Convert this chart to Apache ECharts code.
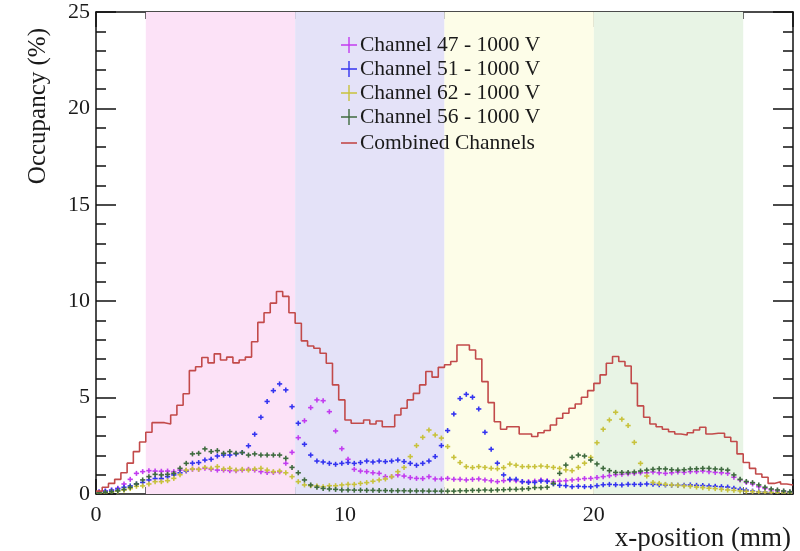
<!DOCTYPE html>
<html>
<head>
<meta charset="utf-8">
<script src="https://cdn.jsdelivr.net/npm/echarts@6/dist/echarts.min.js"></script>
<style>html,body{margin:0;padding:0;background:#fff}#c{width:800px;height:551px}</style>
</head>
<body>
<div id="c"></div>
<script>
// Histogram binning: 112 bins of 0.25 mm from 0 to 28 mm
const binStart = 0;
const binWidth = 0.25;
const xTicks = [0, 10, 20];
const yTicks = [0, 5, 10, 15, 20, 25];

const seriesNames = ['Channel 47 - 1000 V', 'Channel 51 - 1000 V', 'Channel 62 - 1000 V', 'Channel 56 - 1000 V', 'Combined Channels'];

const ch47 = [
0.10,0.15,0.20,0.30,0.52,0.76,1.07,1.16,1.21,1.19,
1.18,1.19,1.16,1.24,1.21,1.28,1.28,1.33,1.28,1.24,
1.24,1.21,1.21,1.24,1.28,1.24,1.16,1.12,1.12,1.15,
1.59,2.16,2.92,3.80,4.48,4.88,4.84,4.27,3.27,2.35,
1.80,1.28,1.19,1.16,1.10,1.07,0.90,0.90,0.99,0.93,
0.85,0.81,0.80,0.90,0.78,0.78,0.81,0.76,0.76,0.73,
0.76,0.78,0.73,0.69,0.64,0.69,0.73,0.69,0.64,0.64,
0.67,0.73,0.69,0.64,0.67,0.69,0.73,0.76,0.80,0.81,
0.85,0.90,0.95,1.00,1.02,1.05,1.07,1.10,1.10,1.14,
1.10,1.07,1.10,1.14,1.12,1.16,1.16,1.19,1.16,1.12,
1.10,1.07,0.87,0.73,0.60,0.52,0.38,0.29,0.21,0.16,
0.12,0.09];

const ch51 = [
0.10,0.15,0.20,0.26,0.35,0.42,0.52,0.60,0.73,0.80,
0.80,0.90,0.99,1.10,1.20,1.60,1.63,1.76,1.80,1.97,
2.02,2.02,2.08,2.15,2.50,3.10,3.98,4.80,5.36,5.71,
5.40,4.53,3.67,2.58,2.02,1.71,1.66,1.59,1.54,1.59,
1.63,1.59,1.63,1.71,1.66,1.71,1.68,1.71,1.76,1.68,
1.59,1.49,1.59,1.71,1.94,2.51,3.29,4.15,4.95,5.17,
5.02,4.41,3.20,2.32,1.60,0.99,0.76,0.76,0.64,0.60,
0.60,0.67,0.65,0.52,0.45,0.43,0.38,0.40,0.38,0.38,
0.43,0.48,0.50,0.48,0.47,0.50,0.50,0.50,0.52,0.50,
0.48,0.47,0.46,0.45,0.46,0.47,0.45,0.44,0.42,0.40,
0.38,0.36,0.30,0.25,0.20,0.15,0.12,0.10,0.08,0.07,
0.07,0.06];

const ch62 = [
0.05,0.07,0.10,0.15,0.20,0.28,0.40,0.42,0.52,0.64,
0.64,0.69,0.81,1.00,1.24,1.30,1.28,1.38,1.33,1.42,
1.30,1.33,1.24,1.28,1.24,1.30,1.33,1.24,1.16,1.19,
1.10,0.90,0.64,0.47,0.43,0.42,0.38,0.43,0.43,0.47,
0.50,0.50,0.55,0.59,0.66,0.73,0.78,0.90,1.16,1.38,
1.94,2.51,2.94,3.32,3.06,2.90,2.46,1.90,1.63,1.42,
1.37,1.42,1.38,1.33,1.31,1.37,1.55,1.49,1.42,1.42,
1.42,1.45,1.42,1.38,1.33,1.25,1.21,1.38,1.60,1.90,
2.66,3.36,3.84,4.24,3.88,3.55,2.68,1.59,0.93,0.60,
0.55,0.50,0.47,0.45,0.42,0.40,0.36,0.33,0.30,0.28,
0.24,0.21,0.19,0.16,0.14,0.12,0.10,0.09,0.08,0.07,
0.06,0.05];

const ch56 = [
0.06,0.09,0.12,0.17,0.24,0.35,0.52,0.73,0.90,1.02,
0.99,1.02,1.07,1.33,1.59,2.08,2.11,2.34,2.20,2.25,
2.11,2.20,2.11,2.15,2.02,2.08,2.02,2.02,2.02,2.02,
1.85,1.38,1.10,0.73,0.47,0.35,0.29,0.26,0.24,0.21,
0.21,0.20,0.20,0.19,0.19,0.18,0.18,0.17,0.17,0.17,
0.16,0.16,0.16,0.15,0.15,0.15,0.15,0.15,0.17,0.17,
0.19,0.19,0.21,0.19,0.21,0.22,0.24,0.24,0.26,0.28,
0.33,0.33,0.35,0.55,1.07,1.50,1.90,2.02,1.97,1.76,
1.56,1.33,1.21,1.12,1.12,1.12,1.14,1.19,1.24,1.28,
1.31,1.30,1.26,1.24,1.26,1.30,1.31,1.33,1.33,1.30,
1.28,1.24,0.99,0.76,0.65,0.59,0.47,0.35,0.26,0.21,
0.16,0.12];

const combined = [
0.15,0.35,0.55,0.76,1.10,1.60,2.20,2.70,3.20,3.70,
3.70,3.63,4.10,4.60,5.20,6.40,6.60,7.08,6.80,7.27,
6.95,7.10,6.80,6.95,7.10,7.90,8.90,9.40,9.90,10.50,
10.25,9.40,8.86,7.94,7.68,7.56,7.30,6.78,5.66,4.88,
3.84,3.67,3.67,3.84,3.63,3.79,3.49,3.49,4.10,4.45,
4.88,5.22,5.66,6.35,6.06,6.57,6.70,6.87,7.73,7.73,
7.47,7.00,5.83,4.74,3.75,3.36,3.49,3.49,3.11,3.11,
2.98,3.18,3.29,3.58,3.93,4.19,4.45,4.67,5.02,5.36,
5.74,6.18,6.78,7.13,6.87,6.64,5.74,4.57,3.98,3.63,
3.49,3.36,3.23,3.11,3.06,3.18,3.32,3.46,3.11,3.15,
3.15,2.94,2.72,2.08,1.63,1.33,1.04,0.87,0.55,0.64,
0.52,0.47];

// Shaded channel regions (mm)
const bandRanges = [[2, 8], [8, 14], [14, 20], [20, 26]];
const bandColors = ['#fce2f7', '#e4e2f8', '#fdfde8', '#e8f4e5'];
const colors = ['#c23cf0', '#3434f0', '#c8c23c', '#3f6b3f', '#c24a4a'];

const binCenters = ch47.map((_, i) => binStart + binWidth * (i + 0.5));
const binEdges = combined.map((_, i) => binStart + binWidth * i);

function pts(vals) { return vals.map((v, i) => [binCenters[i], v]); }

function renderCross(params, api) {
  const x = api.value(0), y = api.value(1);
  const c = api.coord([x, y]);
  const l = api.coord([x - binWidth * 0.42, y]);
  const r = api.coord([x + binWidth * 0.42, y]);
  const st = { stroke: api.visual('color'), lineWidth: 1.6 };
  return {
    type: 'group',
    children: [
      { type: 'line', shape: { x1: l[0], y1: c[1], x2: r[0], y2: c[1] }, style: st },
      { type: 'line', shape: { x1: c[0], y1: c[1] - 2.5, x2: c[0], y2: c[1] + 2.5 }, style: st }
    ]
  };
}

const FONT = '"Liberation Serif", "Times New Roman", serif';
const crossIcon = 'path://M0,7.3h16v1.4h-16z M7.3,0h1.4v16h-1.4z';

const chart = echarts.init(document.getElementById('c'), null, { renderer: 'canvas' });

const stepData = binEdges.map((e, i) => [e, combined[i]]);
stepData.push([binStart + binWidth * combined.length, combined[combined.length - 1]]);

const axisCommon = {
  type: 'value',
  splitLine: { show: false },
  axisLine: { show: true, onZero: false, lineStyle: { color: '#111', width: 1.5 } },
  axisTick: { show: true, inside: true, lineStyle: { color: '#111', width: 1.5 } },
  minorTick: { show: true, splitNumber: 5, lineStyle: { color: '#111', width: 1.5 } },
  axisLabel: { fontFamily: FONT, fontSize: 22, color: '#1a1a1a' }
};

const option = {
  backgroundColor: '#ffffff',
  animation: false,
  grid: { left: 96, right: 7, top: 12, bottom: 57, containLabel: false },
  xAxis: [
    Object.assign({}, axisCommon, {
      position: 'bottom', min: xTicks[0], max: 28, interval: xTicks[1] - xTicks[0],
      axisTick: Object.assign({}, axisCommon.axisTick, { length: 15 }),
      minorTick: Object.assign({}, axisCommon.minorTick, { length: 7 }),
      axisLabel: Object.assign({}, axisCommon.axisLabel, { margin: 10, showMaxLabel: false })
    }),
    Object.assign({}, axisCommon, {
      position: 'top', min: xTicks[0], max: 28, interval: xTicks[1] - xTicks[0],
      axisTick: Object.assign({}, axisCommon.axisTick, { length: 15 }),
      minorTick: Object.assign({}, axisCommon.minorTick, { length: 7 }),
      axisLabel: { show: false }
    })
  ],
  yAxis: [
    Object.assign({}, axisCommon, {
      position: 'left', min: yTicks[0], max: yTicks[yTicks.length - 1], interval: yTicks[1] - yTicks[0],
      axisTick: Object.assign({}, axisCommon.axisTick, { length: 20 }),
      minorTick: Object.assign({}, axisCommon.minorTick, { length: 10 }),
      axisLabel: Object.assign({}, axisCommon.axisLabel, { margin: 6 })
    }),
    Object.assign({}, axisCommon, {
      position: 'right', min: yTicks[0], max: yTicks[yTicks.length - 1], interval: yTicks[1] - yTicks[0],
      axisTick: Object.assign({}, axisCommon.axisTick, { length: 20 }),
      minorTick: Object.assign({}, axisCommon.minorTick, { length: 10 }),
      axisLabel: { show: false }
    })
  ],
  legend: [
    {
      orient: 'vertical', left: 336, top: 29, itemGap: 2,
      itemWidth: 16, itemHeight: 16, icon: crossIcon,
      data: seriesNames.slice(0, 4),
      textStyle: { fontFamily: FONT, fontSize: 21.5, color: '#1a1a1a', padding: [0, 0, 0, -2] },
      selectedMode: false
    },
    {
      orient: 'vertical', left: 336, top: 127, itemWidth: 16, itemHeight: 1.6, icon: 'rect',
      data: [seriesNames[4]],
      textStyle: { fontFamily: FONT, fontSize: 21.5, color: '#1a1a1a', padding: [0, 0, 0, -2] },
      selectedMode: false
    }
  ],
  graphic: [
    { type: 'text', x: 38, y: 28, rotation: Math.PI / 2,
      style: { text: 'Occupancy (%)', font: '25px ' + FONT, fill: '#1a1a1a', align: 'right', verticalAlign: 'middle' } },
    { type: 'text', x: 791, y: 539,
      style: { text: 'x-position (mm)', font: '27px ' + FONT, fill: '#1a1a1a', align: 'right', verticalAlign: 'middle' } }
  ],
  series: [
    {
      name: 'bands', type: 'line', data: [], z: 0, silent: true,
      markArea: {
        silent: true,
        data: bandRanges.map((r, i) => [
          { xAxis: r[0], itemStyle: { color: bandColors[i], opacity: 1 } },
          { xAxis: r[1] }
        ])
      }
    },
    { name: seriesNames[0], type: 'custom', data: pts(ch47), renderItem: renderCross, color: colors[0], itemStyle: { color: colors[0] }, z: 3, clip: true },
    { name: seriesNames[1], type: 'custom', data: pts(ch51), renderItem: renderCross, color: colors[1], itemStyle: { color: colors[1] }, z: 3, clip: true },
    { name: seriesNames[2], type: 'custom', data: pts(ch62), renderItem: renderCross, color: colors[2], itemStyle: { color: colors[2] }, z: 3, clip: true },
    { name: seriesNames[3], type: 'custom', data: pts(ch56), renderItem: renderCross, color: colors[3], itemStyle: { color: colors[3] }, z: 3, clip: true },
    {
      name: seriesNames[4], type: 'line', step: 'end', data: stepData, showSymbol: false, symbol: 'none',
      color: colors[4], lineStyle: { color: colors[4], width: 1.6 }, z: 4
    }
  ]
};
chart.setOption(option);
</script>
</body>
</html>
